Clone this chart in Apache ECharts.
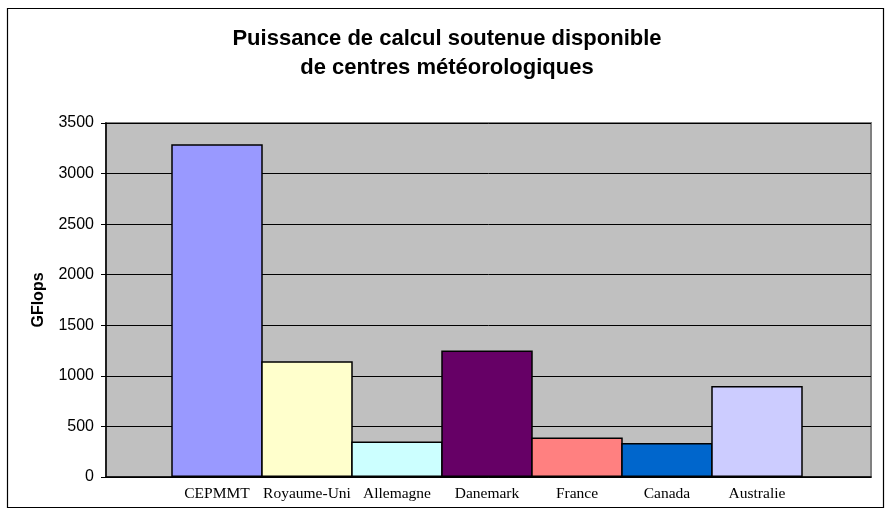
<!DOCTYPE html>
<html>
<head>
<meta charset="utf-8">
<script src="https://cdn.jsdelivr.net/npm/echarts@6/dist/echarts.min.js"></script>
<style>
  html, body { margin: 0; padding: 0; background: #ffffff; }
  #chart { width: 894px; height: 515px; }
</style>
</head>
<body>
<div id="chart"></div>
<script>
// Sustained computing power of weather centres (GFlops)
const categories = ['CEPMMT', 'Royaume-Uni', 'Allemagne', 'Danemark', 'France', 'Canada', 'Australie'];
const gflops = [3290, 1145, 350, 1250, 390, 335, 900];
const barColors = ['#9999FF', '#FFFFCC', '#CCFFFF', '#660066', '#FF8080', '#0066CC', '#CCCCFF'];
const yTicks = { min: 0, max: 3500, interval: 500 };

const chart = echarts.init(document.getElementById('chart'), null, { renderer: 'canvas' });

const option = {
  backgroundColor: '#ffffff',
  animation: false,
  title: {
    text: 'Puissance de calcul soutenue disponible\nde centres météorologiques',
    left: 'center',
    top: 19,
    textStyle: {
      fontFamily: 'Liberation Sans, Arial, sans-serif',
      fontWeight: 'bold',
      fontSize: 22,
      lineHeight: 29,
      color: '#000000'
    }
  },
  graphic: [{
    type: 'rect',
    shape: { x: 7.5, y: 8.5, width: 876, height: 499 },
    style: { fill: 'none', stroke: '#000000', lineWidth: 1.2 },
    z: 100
  }],
  grid: [
    // plot area with the value scale and gridlines
    { left: 106, top: 123, width: 765, height: 354, show: true,
      backgroundColor: '#C0C0C0', borderColor: '#808080', borderWidth: 2 },
    // band holding the bars
    { left: 172, top: 123, width: 630, height: 354 }
  ],
  xAxis: [
    { gridIndex: 0, type: 'value', min: 0, max: 1,
      axisLine: { show: true, onZero: false, lineStyle: { color: '#000000', width: 1.5 } },
      axisTick: { show: false }, axisLabel: { show: false }, splitLine: { show: false } },
    { gridIndex: 1, type: 'category', data: categories,
      axisLine: { show: false }, axisTick: { show: false },
      axisLabel: {
        interval: 0,
        margin: 9,
        fontFamily: 'Liberation Serif, Times New Roman, serif',
        fontSize: 15.5,
        color: '#000000'
      } }
  ],
  yAxis: [
    { gridIndex: 0, type: 'value', min: yTicks.min, max: yTicks.max, interval: yTicks.interval,
      name: 'GFlops', nameLocation: 'middle', nameGap: 59, nameRotate: 90,
      nameTextStyle: { fontFamily: 'Liberation Sans, Arial, sans-serif', fontWeight: 'bold', fontSize: 16, color: '#000000' },
      axisLine: { show: true, lineStyle: { color: '#000000', width: 1.5 } },
      axisTick: { show: true, length: 5, lineStyle: { color: '#000000', width: 1 } },
      axisLabel: { margin: 12, formatter: v => String(v),
        fontFamily: 'Liberation Sans, Arial, sans-serif', fontSize: 16, color: '#000000' },
      splitLine: { show: true, lineStyle: { color: '#000000', width: 1 } } },
    { gridIndex: 1, type: 'value', min: yTicks.min, max: yTicks.max, show: false,
      splitLine: { show: false } }
  ],
  series: [{
    type: 'bar',
    xAxisIndex: 1,
    yAxisIndex: 1,
    barWidth: 91.5,
    barCategoryGap: 0,
    data: gflops.map((v, i) => ({
      value: v,
      itemStyle: { color: barColors[i], borderColor: '#000000', borderWidth: 1.5 }
    }))
  }]
};

chart.setOption(option);
</script>
</body>
</html>
